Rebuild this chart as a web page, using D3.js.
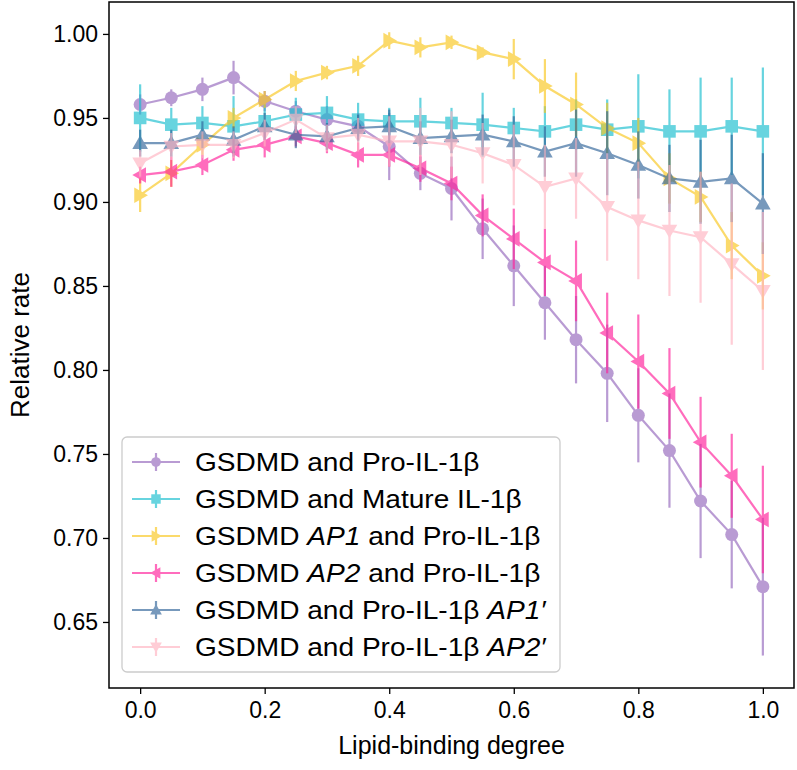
<!DOCTYPE html>
<html><head><meta charset="utf-8">
<script src="https://cdn.jsdelivr.net/npm/d3@7"></script>
<style>body{margin:0;background:#fff}svg{display:block}text{font-family:"Liberation Sans",Arial,Helvetica,sans-serif}</style>
</head><body>
<svg id="c" width="797" height="770"></svg>
<script>
const xVals = [0,0.05,0.1,0.15,0.2,0.25,0.3,0.35,0.4,0.45,0.5,0.55,0.6,0.65,0.7,0.75,0.8,0.85,0.9,0.95,1.0];
const proIL = [0.958,0.962,0.967,0.974,0.960,0.954,0.949,0.945,0.933,0.917,0.908,0.884,0.862,0.840,0.818,0.798,0.773,0.752,0.722,0.702,0.671];
const proILErr = [0.006,0.005,0.007,0.010,0.006,0.006,0.008,0.008,0.020,0.010,0.019,0.018,0.024,0.022,0.026,0.029,0.028,0.034,0.034,0.032,0.041];
const mature = [0.950,0.946,0.947,0.945,0.948,0.952,0.953,0.949,0.948,0.948,0.947,0.946,0.944,0.942,0.946,0.943,0.945,0.942,0.942,0.945,0.942];
const matureErr = [0.020,0.010,0.010,0.018,0.010,0.010,0.010,0.010,0.008,0.014,0.009,0.019,0.012,0.015,0.015,0.018,0.031,0.025,0.032,0.029,0.038];
const ap1 = [0.904,0.917,0.934,0.950,0.961,0.972,0.977,0.981,0.996,0.992,0.995,0.989,0.985,0.969,0.958,0.944,0.935,0.914,0.903,0.874,0.856];
const ap1Err = [0.010,0.008,0.006,0.006,0.005,0.006,0.004,0.006,0.005,0.006,0.004,0.003,0.012,0.016,0.019,0.015,0.015,0.015,0.015,0.020,0.020];
const ap2 = [0.916,0.918,0.922,0.931,0.934,0.939,0.935,0.928,0.928,0.920,0.911,0.892,0.878,0.864,0.853,0.822,0.805,0.786,0.757,0.737,0.711];
const ap2Err = [0.005,0.009,0.006,0.0065,0.0075,0.006,0.006,0.0075,0.007,0.008,0.010,0.0125,0.018,0.020,0.024,0.024,0.028,0.027,0.027,0.025,0.032];
const ap1p = [0.935,0.935,0.940,0.937,0.945,0.940,0.939,0.944,0.945,0.938,0.939,0.940,0.936,0.930,0.935,0.929,0.922,0.914,0.912,0.914,0.899];
const ap1pErr = [0.008,0.008,0.008,0.008,0.008,0.008,0.008,0.008,0.010,0.010,0.010,0.012,0.015,0.015,0.020,0.025,0.020,0.020,0.025,0.026,0.030];
const ap2p = [0.923,0.933,0.934,0.934,0.941,0.949,0.938,0.940,0.936,0.936,0.934,0.929,0.922,0.909,0.914,0.897,0.889,0.883,0.879,0.863,0.847];
const ap2pErr = [0.008,0.008,0.008,0.008,0.008,0.008,0.008,0.010,0.015,0.020,0.020,0.018,0.024,0.025,0.024,0.032,0.035,0.039,0.039,0.048,0.047];
const xTicks = [0.0,0.2,0.4,0.6,0.8,1.0];
const yTicks = [0.65,0.70,0.75,0.80,0.85,0.90,0.95,1.00];
const seriesNames = [
  [{t:"GSDMD and Pro-IL-1β"}],
  [{t:"GSDMD and Mature IL-1β"}],
  [{t:"GSDMD "},{t:"AP1",i:true},{t:" and Pro-IL-1β"}],
  [{t:"GSDMD "},{t:"AP2",i:true},{t:" and Pro-IL-1β"}],
  [{t:"GSDMD and Pro-IL-1β "},{t:"AP1′",i:true}],
  [{t:"GSDMD and Pro-IL-1β "},{t:"AP2′",i:true}]
];
const colors = ["#9467bd","#17becf","#f9c71d","#ff1f9a","#2f6399","#ffb3c1"];
const symbols = ["circle","square","right","left","up","down"];

const series = [proIL,mature,ap1,ap2,ap1p,ap2p].map((v,k)=>({
  vals:v, errs:[proILErr,matureErr,ap1Err,ap2Err,ap1pErr,ap2pErr][k],
  name:seriesNames[k], color:colors[k], sym:symbols[k]
}));

const L=109,R=794,T=2,B=688;
const x = d3.scaleLinear().domain([-0.05,1.05]).range([L,R]);
const y = d3.scaleLinear().domain([0.6107,1.019]).range([B,T]);
const svg = d3.select("#c");

function markerPath(sym, s){
  const h=s;
  if(sym==="circle") return d3.symbol(d3.symbolCircle, Math.PI*h*h)();
  if(sym==="square") return `M${-h},${-h}H${h}V${h}H${-h}Z`;
  const a=h*1.15;
  if(sym==="up") return `M0,${-a}L${a},${a*0.75}L${-a},${a*0.75}Z`;
  if(sym==="down") return `M0,${a}L${a},${-a*0.75}L${-a},${-a*0.75}Z`;
  if(sym==="right") return `M${a},0L${-a*0.75},${a}L${-a*0.75},${-a}Z`;
  if(sym==="left") return `M${-a},0L${a*0.75},${a}L${a*0.75},${-a}Z`;
}
const msize = {circle:6.5,square:6.3,right:6.8,left:6.8,up:6.8,down:6.8};

const plot = svg.append("g");
series.forEach(s=>{
  const g = plot.append("g").attr("opacity",0.65);
  g.selectAll("line.err").data(s.vals).join("line")
    .attr("x1",(d,i)=>x(xVals[i])).attr("x2",(d,i)=>x(xVals[i]))
    .attr("y1",(d,i)=>y(d-s.errs[i])).attr("y2",(d,i)=>y(d+s.errs[i]))
    .attr("stroke",s.color).attr("stroke-width",2.2);
  g.append("path").datum(s.vals)
    .attr("d",d3.line().x((d,i)=>x(xVals[i])).y(d=>y(d)))
    .attr("fill","none").attr("stroke",s.color).attr("stroke-width",2.2);
  g.selectAll("path.m").data(s.vals).join("path").attr("class","m")
    .attr("transform",(d,i)=>`translate(${x(xVals[i])},${y(d)})`)
    .attr("d",markerPath(s.sym,msize[s.sym])).attr("fill",s.color);
});

// axes
const xAxis = d3.axisBottom(x).tickValues(xTicks).tickFormat(d3.format(".1f")).tickSizeOuter(0).tickSize(6).tickPadding(8);
const yAxis = d3.axisLeft(y).tickValues(yTicks).tickFormat(d3.format(".2f")).tickSizeOuter(0).tickSize(6).tickPadding(5);
const gx = svg.append("g").attr("transform",`translate(0,${B})`).call(xAxis);
const gy = svg.append("g").attr("transform",`translate(${L},0)`).call(yAxis);
[gx,gy].forEach(g=>{
  g.select(".domain").remove();
  g.selectAll(".tick line").attr("stroke","#000").attr("stroke-width",1.3);
  g.selectAll(".tick text").attr("font-size",23).attr("fill","#000").attr("font-family","Liberation Sans, Arial, sans-serif");
});
svg.append("rect").attr("x",L).attr("y",T).attr("width",R-L).attr("height",B-T)
  .attr("fill","none").attr("stroke","#000").attr("stroke-width",1.5);

svg.append("text").attr("x",(L+R)/2).attr("y",754).attr("text-anchor","middle")
  .attr("font-size",25).text("Lipid-binding degree");
svg.append("text").attr("transform",`translate(29,${(T+B)/2}) rotate(-90)`).attr("text-anchor","middle")
  .attr("font-size",26).text("Relative rate");

// legend
const lg = svg.append("g");
lg.append("rect").attr("x",122).attr("y",437).attr("width",438).attr("height",235).attr("rx",5)
  .attr("fill","#fff").attr("fill-opacity",0.8).attr("stroke","#cccccc").attr("stroke-width",1.3);
const rowY = d3.scalePoint().domain(d3.range(series.length)).range([462,647]);
series.forEach((s,k)=>{
  const yy = rowY(k);
  const g = lg.append("g").attr("opacity",0.65);
  g.append("line").attr("x1",132).attr("x2",180).attr("y1",yy).attr("y2",yy).attr("stroke",s.color).attr("stroke-width",2.2);
  g.append("line").attr("x1",156).attr("x2",156).attr("y1",yy-9).attr("y2",yy+9).attr("stroke",s.color).attr("stroke-width",2.2);
  g.append("path").attr("transform",`translate(156,${yy})`).attr("d",markerPath(s.sym,msize[s.sym]*0.75)).attr("fill",s.color);
  const t = lg.append("text").attr("transform",`translate(195,${yy}) scale(1.08,1)`).attr("dy","0.36em").attr("font-size",26);
  s.name.forEach(p=>{ t.append("tspan").attr("font-style",p.i?"italic":"normal").text(p.t); });
});
</script>
</body></html>
